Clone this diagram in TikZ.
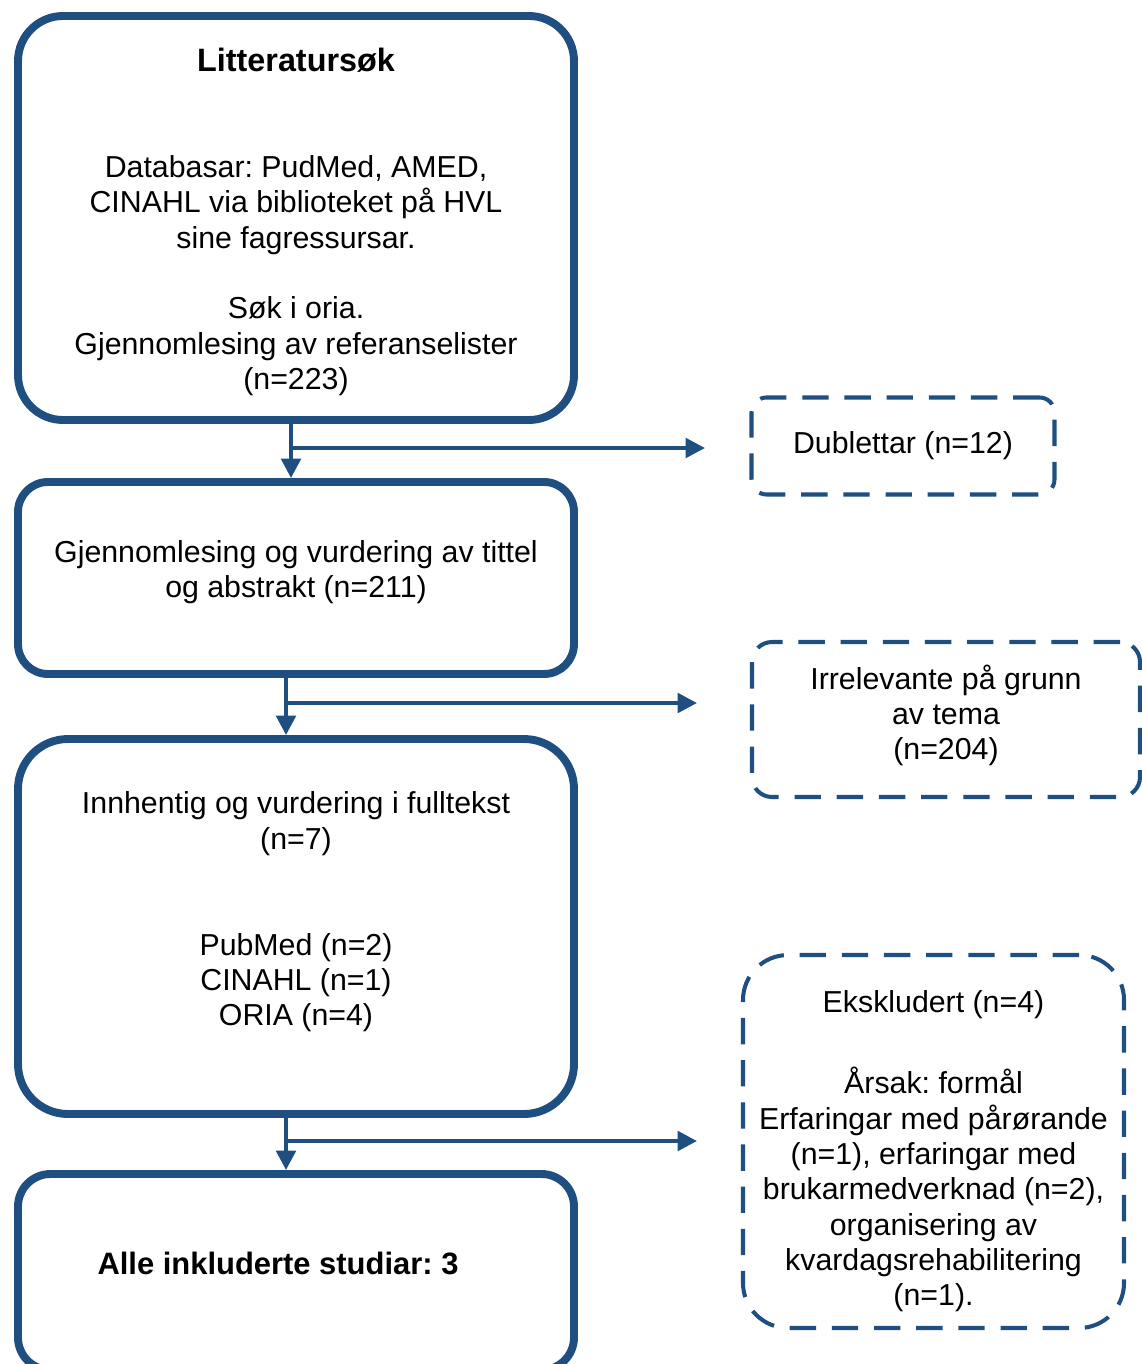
\documentclass[tikz,border=0pt]{standalone}
\usepackage{fontspec}
\setmainfont{Liberation Sans}
\usetikzlibrary{arrows.meta}
\definecolor{hvlblue}{RGB}{31,78,128}
\frenchspacing

\begin{document}
\begin{tikzpicture}[
	every node/.style={font=\fontsize{17.25pt}{20.1pt}\selectfont},
	stepbox/.style={draw=hvlblue, line width=4.5pt, align=center, minimum width=11.12cm, inner sep=0pt},
	exclbox/.style={draw=hvlblue, line width=2.3pt, dash pattern=on 15pt off 9pt, align=center, inner sep=0pt},
	flowarrow/.style={draw=hvlblue, line width=2.3pt, -{Triangle[length=11pt, width=11pt]}},
]
	% Page frame
	\useasboundingbox (0, 0) rectangle (22.84, -27.28);
	\clip (0, 0) rectangle (22.84, -27.28);

	% Main steps
	\node[stepbox, rounded corners=0.9cm, minimum height=8.08cm] (search) at (5.92, -4.36)
		{\rule{0pt}{0.63cm}{\fontsize{18.4pt}{20.1pt}\selectfont\bfseries Litteratursøk}\\ \mbox{}\\ \mbox{}\\ Databasar: PudMed, AMED,\\ CINAHL via biblioteket på HVL\\ sine fagressursar.\\ \mbox{}\\ Søk i oria.\\ Gjennomlesing av referanselister\\ (n=223)};
	\node[stepbox, rounded corners=0.6cm, minimum height=3.84cm] (screen) at (5.92, -11.56)
		{Gjennomlesing og vurdering av tittel\\ og abstrakt (n=211)\rule[-0.35cm]{0pt}{0pt}};
	\node[stepbox, rounded corners=1.0cm, minimum height=7.5cm] (fulltext) at (5.92, -18.53)
		{Innhentig og vurdering i fulltekst\\ (n=7)\\ \mbox{}\\ \mbox{}\\ PubMed (n=2)\\ CINAHL (n=1)\\ ORIA (n=4)\\ \mbox{}};
	\node[stepbox, rounded corners=0.65cm, minimum height=3.92cm] (included) at (5.92, -25.44)
		{{\fontsize{17.6pt}{20.1pt}\selectfont\bfseries Alle inkluderte studiar: 3}\hspace*{0.72cm}\rule[-0.33cm]{0pt}{0pt}};

	% Excluded records
	\node[exclbox, rounded corners=0.3cm, minimum width=6.06cm, minimum height=1.94cm] (dupl) at (18.06, -8.92)
		{Dublettar (n=12)};
	\node[exclbox, rounded corners=0.4cm, minimum width=7.76cm, minimum height=3.1cm] (irrel) at (18.92, -14.39)
		{Irrelevante på grunn\\ av tema\\ (n=204)\rule[-0.29cm]{0pt}{0pt}};
	\node[exclbox, rounded corners=0.9cm, minimum width=7.62cm, minimum height=7.46cm] (excl) at (18.67, -22.83)
		{\rule{0pt}{0.82cm}Ekskludert (n=4)\\[0.93cm] Årsak: formål\\ Erfaringar med pårørande\\ (n=1), erfaringar med\\ brukarmedverknad (n=2),\\ organisering av\\ kvardagsrehabilitering\\ (n=1).};

	% Flow down
	\draw[flowarrow] ([xshift=-0.1cm]search.south) -- ([xshift=-0.1cm]screen.north);
	\draw[flowarrow] ([xshift=-0.2cm]screen.south) -- ([xshift=-0.2cm]fulltext.north);
	\draw[flowarrow] ([xshift=-0.2cm]fulltext.south) -- ([xshift=-0.2cm]included.north);

	% Branches to the side
	\coordinate (forkA) at (5.82, -8.96);
	\coordinate (endA) at (14.1, -8.96);
	\coordinate (forkB) at (5.72, -14.06);
	\coordinate (endB) at (13.94, -14.06);
	\coordinate (forkC) at (5.72, -22.82);
	\coordinate (endC) at (13.94, -22.82);
	\draw[flowarrow] (forkA) -- (endA);
	\draw[flowarrow] (forkB) -- (endB);
	\draw[flowarrow] (forkC) -- (endC);
\end{tikzpicture}
\end{document}
